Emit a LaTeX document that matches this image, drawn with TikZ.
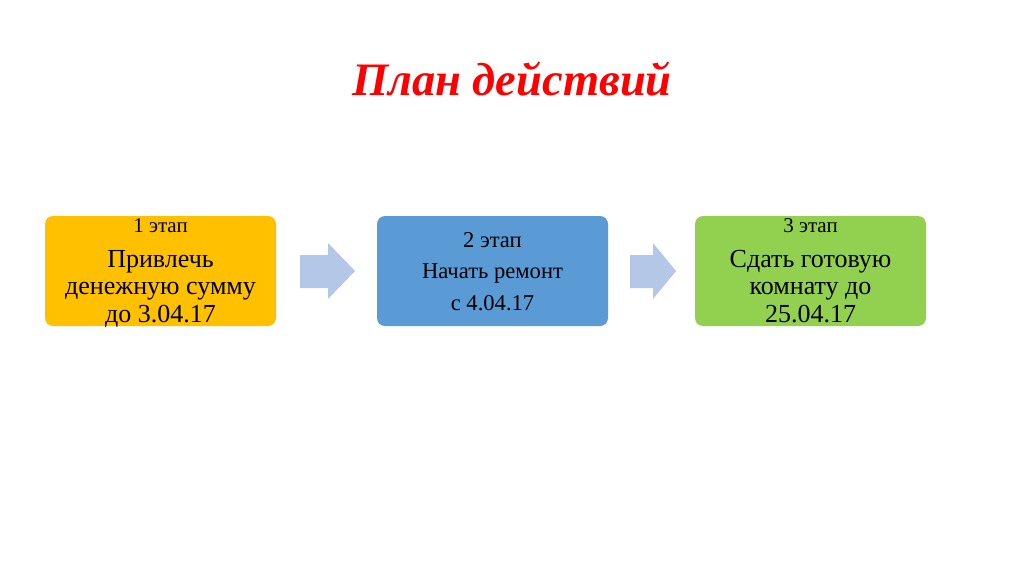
\documentclass[tikz,border=0pt]{standalone}
\usepackage{fontspec}
\setmainfont{Liberation Serif}
\usepackage{xcolor}
\usetikzlibrary{positioning, calc}

\definecolor{stepyellow}{HTML}{FFC000}
\definecolor{stepblue}{HTML}{5B9BD5}
\definecolor{stepgreen}{HTML}{92D050}
\definecolor{arrowblue}{HTML}{B4C7E7}

\tikzset{
    stagebox/.style={rounded corners=8pt, minimum width=231pt, minimum height=110pt, inner sep=0pt},
    headtext/.style={anchor=base, font=\fontsize{21}{25}\selectfont},
    bigtext/.style={anchor=base, align=center, font=\fontsize{26}{27.5}\selectfont},
    smalltext/.style={anchor=base, align=center, font=\fontsize{22.6}{31.5}\selectfont}
}

\begin{document}
\begin{tikzpicture}[x=1pt, y=-1pt]
    \useasboundingbox (0,0) rectangle (1024,574);
    % title
    \node[anchor=base, text=red, font=\fontsize{46.5}{50}\selectfont\bfseries\itshape] (title) at (512,95) {План действий};
    % stages
    \node[stagebox, fill=stepyellow] (stage1) at (160.5,271) {};
    \node[stagebox, fill=stepblue] (stage2) at (492.5,271) {};
    \node[stagebox, fill=stepgreen] (stage3) at (810.5,271) {};
    \node[headtext] (head1) at (160.5,232) {1 этап};
    \node[bigtext] (text1) at (160.5,322) {Привлечь\\денежную сумму\\до 3.04.17};
    \node[smalltext] (text2) at (492.5,310) {2 этап\\Начать ремонт\\с 4.04.17};
    \node[headtext] (head3) at (810.5,232) {3 этап};
    \node[bigtext] (text3) at (810.5,322) {Сдать готовую\\комнату до\\25.04.17};
    % arrows
    \fill[arrowblue] (300,255) -- (328,255) -- (328,243) -- (355,271) -- (328,299) -- (328,288) -- (300,288) -- cycle;
    \fill[arrowblue] (630,255) -- (653,255) -- (653,243) -- (676,271) -- (653,299) -- (653,288) -- (630,288) -- cycle;
\end{tikzpicture}
\end{document}
